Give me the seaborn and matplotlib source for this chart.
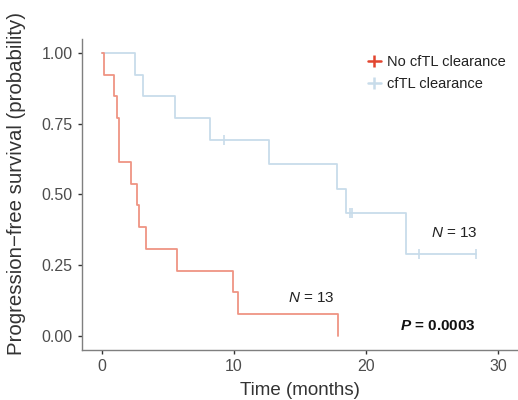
import numpy as np
import pandas as pd
import matplotlib
matplotlib.use("Agg")
import matplotlib.pyplot as plt
from matplotlib.lines import Line2D
import seaborn as sns

# ---- data ----
groups = ["No cfTL clearance", "cfTL clearance"]
no_clear_times = [0.15, 0.9, 1.16, 1.31, 1.31, 2.22, 2.67, 2.86, 3.39, 5.7, 9.92, 10.33, 17.9]
no_clear_event = [1, 1, 1, 1, 1, 1, 1, 1, 1, 1, 1, 1, 1]
clear_times = [2.55, 3.13, 5.58, 8.23, 9.24, 12.65, 17.83, 18.5, 18.76, 18.96, 23.05, 24.0, 28.3]
clear_event = [1, 1, 1, 1, 0, 1, 1, 1, 0, 0, 1, 0, 0]
n_labels = ["13", "13"]
p_label = "0.0003"
x_ticks = [0, 10, 20, 30]
y_ticks = [0.0, 0.25, 0.5, 0.75, 1.0]
line_colors = {"No cfTL clearance": "#EF9484", "cfTL clearance": "#C8DCEA"}
legend_colors = {"No cfTL clearance": "#E2452F", "cfTL clearance": "#C8DCEA"}


def km(times, events):
    t = np.array(times, float)
    e = np.array(events, int)
    order = np.argsort(t, kind="stable")
    t, e = t[order], e[order]
    uniq = np.unique(t)
    surv = 1.0
    st, ss = [0.0], [1.0]
    cens_t, cens_s = [], []
    at_risk = len(t)
    for u in uniq:
        d = int(((t == u) & (e == 1)).sum())
        c = int(((t == u) & (e == 0)).sum())
        if d > 0:
            surv *= (at_risk - d) / at_risk
        st.append(u)
        ss.append(surv)
        if c > 0:
            cens_t.append(u)
            cens_s.append(surv)
        at_risk -= d + c
    return st, ss, cens_t, cens_s


rows, crows = [], []
for g, tt, ee in [(groups[0], no_clear_times, no_clear_event),
                  (groups[1], clear_times, clear_event)]:
    st, ss, ct, cs = km(tt, ee)
    rows += [dict(group=g, time=a, surv=b) for a, b in zip(st, ss)]
    crows += [dict(group=g, time=a, surv=b) for a, b in zip(ct, cs)]
df = pd.DataFrame(rows)
cdf = pd.DataFrame(crows)

sns.set_theme(style="white")
plt.rcParams["font.family"] = ["Liberation Sans", "DejaVu Sans"]
plt.rcParams["mathtext.fontset"] = "custom"
plt.rcParams["mathtext.rm"] = "Liberation Sans"
plt.rcParams["mathtext.it"] = "Liberation Sans:italic"
plt.rcParams["mathtext.bf"] = "Liberation Sans:bold"
plt.rcParams["mathtext.bfit"] = "Liberation Sans:bold:italic"

fig = plt.figure(figsize=(5.18, 4.0), dpi=100)
ax = fig.add_axes([0.158, 0.125, 0.842, 0.778])

for g in [groups[1], groups[0]]:
    sub = df[df.group == g]
    sns.lineplot(data=sub, x="time", y="surv", drawstyle="steps-post",
                 estimator=None, color=line_colors[g], lw=1.3, ax=ax,
                 legend=False)
    csub = cdf[cdf.group == g]
    if len(csub):
        sns.scatterplot(data=csub, x="time", y="surv", marker="|", s=60,
                        color=line_colors[g], linewidth=1.2, ax=ax,
                        legend=False)

ax.set_xlim(-1.5, 31.5)
ax.set_ylim(-0.05, 1.05)
ax.set_xticks(x_ticks)
ax.set_yticks(y_ticks)
ax.set_yticklabels([f"{v:.2f}" for v in y_ticks])
ax.tick_params(axis="both", labelsize=11.5, labelcolor="#4D4D4D", length=3,
               width=1, direction="out", left=True, bottom=True,
               color="#333333")
for s in ["top", "right"]:
    ax.spines[s].set_visible(False)
for s in ["left", "bottom"]:
    ax.spines[s].set_color("#7F7F7F")
    ax.spines[s].set_linewidth(1.0)

ax.set_xlabel("Time (months)", fontsize=13.5, color="#333333")
ax.xaxis.set_label_coords(0.5, -0.103)
ax.set_ylabel("Progression\u2212free survival (probability)", fontsize=14.7,
              color="#333333")
ax.yaxis.set_label_coords(-0.128, 0.535)

ax.text(15.9, 0.135, r"$\mathit{N}$ = " + n_labels[0], fontsize=11,
        ha="center", va="center", color="#222222")
ax.text(26.7, 0.365, r"$\mathit{N}$ = " + n_labels[1], fontsize=11,
        ha="center", va="center", color="#222222")
ax.text(28.3, 0.035, r"$\mathbfit{P}$ = " + p_label, fontsize=11,
        fontweight="bold", ha="right", va="center", color="#111111")

handles = [Line2D([0], [0], color=legend_colors[g], lw=1.8, marker="|",
                  markersize=9, markeredgewidth=1.8) for g in groups]
leg = ax.legend(handles, groups, loc="upper left", bbox_to_anchor=(0.625, 0.99),
                frameon=False, fontsize=10.5, handlelength=0.9,
                handletextpad=0.4, labelspacing=0.55)
for t in leg.get_texts():
    t.set_color("#222222")

fig.savefig("out.png", dpi=100)
